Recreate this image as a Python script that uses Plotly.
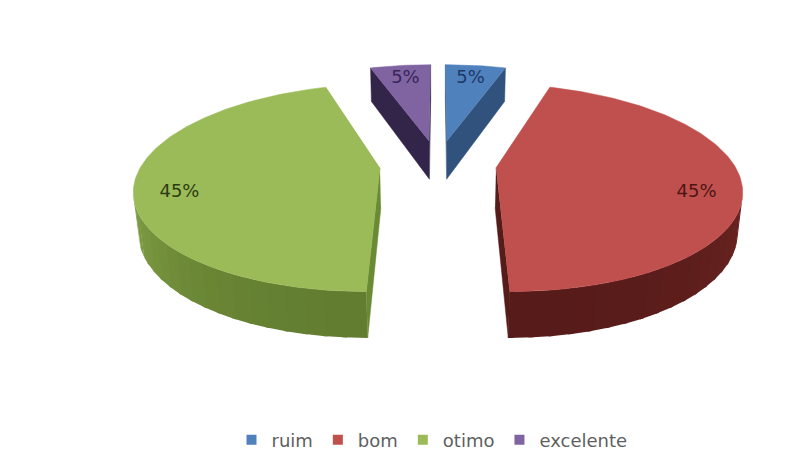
import numpy as np
import plotly.graph_objects as go

# ---- data ----
categories = ["ruim", "bom", "otimo", "excelente"]
values = [5, 45, 45, 5]
labels = ["5%", "45%", "45%", "5%"]

# ---- style ----
top_colors = ["#4F81BD", "#C0504D", "#9BBB59", "#8064A2"]
side_light = ["#3F6899", "#722724", "#8DAD4D", "#45345F"]   # wall colour at the sides
side_dark = ["#335A88", "#571B19", "#627D30", "#3A2B52"]    # wall colour at the front
wall_colors = ["#30527C", "#561C1A", "#6B8A34", "#33254A"]
label_colors = ["#1E3866", "#4E1514", "#2C3C10", "#372659"]
LABEL_DY = [0, 12, 12, 0]
LABEL_R = [0.8, 0.82, 0.82, 0.8]

# The browser page has an 8px body margin: keep data units == window pixels.
OFF = 8
WIN_W, WIN_H = 795, 465
W, Hpx = WIN_W - OFF, WIN_H - OFF

CX, CY = 438.0, 164.0          # window position of the pie centre
F, D = 1145.0, 4.81            # perspective focal / distance
A = np.radians(24.5)           # tilt
THICK = 0.185                  # pie height (radius units)
EXPLODE = 0.245                # explode distance (radius units)
cam = np.array([0.0, D * np.sin(A), -D * np.cos(A)])


def proj(X, Y, Z):
    X, Y, Z = np.asarray(X, float), np.asarray(Y, float), np.asarray(Z, float)
    depth = D + Z * np.cos(A) - Y * np.sin(A)
    sx = CX + F * X / depth
    sy = CY - F * (Z * np.sin(A) + Y * np.cos(A)) / depth
    return sx, sy


def hex2rgb(h):
    h = h.lstrip("#")
    return np.array([int(h[k:k + 2], 16) for k in (0, 2, 4)], float)


def mix(c1, c2, t):
    c = hex2rgb(c1) * (1 - t) + hex2rgb(c2) * t
    return "rgb(%d,%d,%d)" % tuple(np.round(c).astype(int))


total = float(sum(values))
bounds = np.concatenate([[0.0], np.cumsum(values)]) / total * 2 * np.pi

slices = []
for i in range(len(values)):
    t1, t2 = bounds[i], bounds[i + 1]
    mid = 0.5 * (t1 + t2)
    ox, oz = EXPLODE * np.sin(mid), EXPLODE * np.cos(mid)
    slices.append((i, t1, t2, mid, ox, oz))

fig = go.Figure()


def poly(px, py, color, width=0):
    fig.add_trace(go.Scatter(x=px, y=py, fill="toself", mode="lines",
                             line=dict(color=color, width=width),
                             fillcolor=color, showlegend=False,
                             hoverinfo="skip"))


# draw from back to front
for (i, t1, t2, mid, ox, oz) in sorted(slices, key=lambda s: -s[5]):
    n = max(8, int((t2 - t1) / (2 * np.pi) * 360))
    th = np.linspace(t1, t2, n)
    ax_, az_ = ox + np.sin(th), oz + np.cos(th)

    # outer curved wall (visible part), in overlapping shaded strips
    vis = np.array([
        np.dot(np.array([np.sin(t), 0.0, np.cos(t)]),
               cam - np.array([ax_[k], -THICK / 2, az_[k]])) > 0
        for k, t in enumerate(th)])
    idx = np.where(vis)[0]
    if len(idx) > 1:
        step = 4
        for s in range(0, len(idx) - 1, step):
            seg = idx[s:s + step + 2]
            tm = th[seg].mean()
            shade = min(1.0, max(0.0, -np.cos(tm)))
            col = mix(side_light[i], side_dark[i], shade)
            xs_t, ys_t = proj(ax_[seg], np.zeros(len(seg)), az_[seg])
            xs_b, ys_b = proj(ax_[seg], -THICK * np.ones(len(seg)), az_[seg])
            poly(np.concatenate([xs_t, xs_b[::-1]]),
                 np.concatenate([ys_t, ys_b[::-1]]), col)

    # radial walls
    for t, nrm in ((t1, np.array([-np.cos(t1), 0.0, np.sin(t1)])),
                   (t2, np.array([np.cos(t2), 0.0, -np.sin(t2)]))):
        apex = np.array([ox, -THICK / 2, oz])
        if np.dot(nrm, cam - apex) > 0:
            ex, ez = ox + np.sin(t), oz + np.cos(t)
            px, py = proj([ox, ex, ex, ox], [0, 0, -THICK, -THICK],
                          [oz, ez, ez, oz])
            poly(px, py, wall_colors[i], 0.5)

    # top face
    X = np.concatenate([[ox], ax_])
    Z = np.concatenate([[oz], az_])
    px, py = proj(X, np.zeros(len(X)), Z)
    fig.add_trace(go.Scatter(x=px, y=py, fill="toself", mode="lines",
                             line=dict(color=top_colors[i], width=0.5),
                             fillcolor=top_colors[i], showlegend=False,
                             name=categories[i],
                             hovertext=f"{categories[i]}: {labels[i]}",
                             hoverinfo="text"))

# data labels
for (i, t1, t2, mid, ox, oz) in slices:
    r = LABEL_R[i]
    sx, sy = proj(ox + r * np.sin(mid), 0.0, oz + r * np.cos(mid))
    fig.add_trace(go.Scatter(x=[float(sx)], y=[float(sy) + LABEL_DY[i]],
                             mode="text", text=[labels[i]],
                             textfont=dict(family="DejaVu Sans", size=18,
                                           color=label_colors[i]),
                             showlegend=False, hoverinfo="skip"))

# legend entries
for i, cat in enumerate(categories):
    fig.add_trace(go.Scatter(x=[None], y=[None], mode="markers", name=cat,
                             marker=dict(symbol="square", size=10,
                                         color=top_colors[i]),
                             legendrank=i + 1))

fig.update_layout(
    width=W, height=Hpx,
    margin=dict(l=0, r=0, t=0, b=0),
    paper_bgcolor="white", plot_bgcolor="white",
    xaxis=dict(range=[OFF, WIN_W], visible=False, fixedrange=True),
    yaxis=dict(range=[WIN_H, OFF], visible=False, fixedrange=True),
    showlegend=True,
    legend=dict(orientation="h", x=(432 - OFF) / W, xanchor="center",
                y=1 - (440 - OFF) / Hpx, yanchor="middle",
                font=dict(family="DejaVu Sans", size=18, color="#5F5F5F"),
                itemwidth=30, bgcolor="rgba(0,0,0,0)"),
)

fig.write_html("out.html")
